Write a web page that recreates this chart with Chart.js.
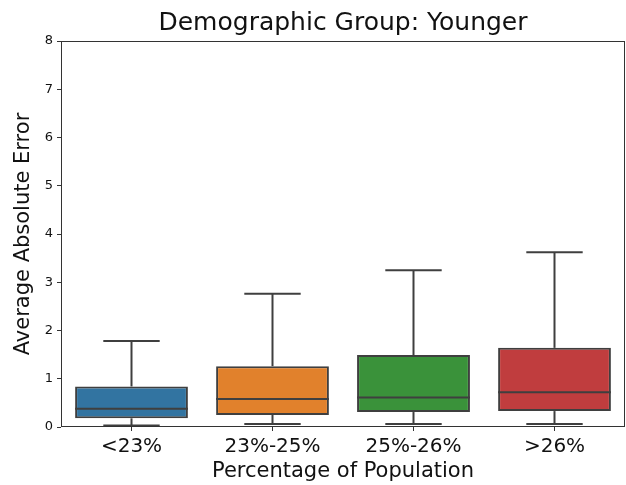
<!DOCTYPE html>
<html>
<head>
<meta charset="utf-8">
<script src="https://cdn.jsdelivr.net/npm/chart.js@4"></script>
<style>
  html, body { margin: 0; padding: 0; background: #fff; }
  #wrap { width: 626px; height: 485px; }
</style>
</head>
<body>
<div id="wrap"><canvas id="boxChart"></canvas></div>
<script>
// values
var categories = ['<23%', '23%-25%', '25%-26%', '>26%'];
var whiskerLow = [0.03, 0.06, 0.06, 0.06];
var q1 = [0.18, 0.25, 0.31, 0.33];
var median = [0.38, 0.58, 0.61, 0.72];
var q3 = [0.84, 1.26, 1.49, 1.64];
var whiskerHigh = [1.78, 2.76, 3.25, 3.62];
var yTicks = [0, 1, 2, 3, 4, 5, 6, 7, 8];

var boxColors = ['#3274a1', '#e1812c', '#3a923a', '#c03d3e'];
var lineColor = '#3f3f3f';
var fontFamily = '"DejaVu Sans", sans-serif';

// whiskers, caps and median lines drawn from the bar elements
const boxPlugin = {
    id: 'boxExtras',
    afterDatasetsDraw(chart) {
        const ctx = chart.ctx;
        const y = chart.scales.y;
        const meta = chart.getDatasetMeta(0);
        ctx.save();
        ctx.strokeStyle = lineColor;
        ctx.lineWidth = 2;
        meta.data.forEach((bar, i) => {
            const half = bar.width / 2;
            const cap = bar.width / 4;
            const x = bar.x;
            const line = (x1, y1, x2, y2) => {
                ctx.beginPath();
                ctx.moveTo(x1, y1);
                ctx.lineTo(x2, y2);
                ctx.stroke();
            };
            line(x, y.getPixelForValue(q3[i]), x, y.getPixelForValue(whiskerHigh[i]));
            line(x, y.getPixelForValue(q1[i]), x, y.getPixelForValue(whiskerLow[i]));
            line(x - cap, y.getPixelForValue(whiskerHigh[i]), x + cap, y.getPixelForValue(whiskerHigh[i]));
            line(x - cap, y.getPixelForValue(whiskerLow[i]), x + cap, y.getPixelForValue(whiskerLow[i]));
            line(x - half, y.getPixelForValue(median[i]), x + half, y.getPixelForValue(median[i]));
        });
        // frame round the plot area
        const a = chart.chartArea;
        ctx.strokeStyle = '#333';
        ctx.lineWidth = 1;
        ctx.strokeRect(a.left + 0.5, a.top + 0.5, a.right - a.left - 1, a.bottom - a.top - 1);
        ctx.restore();
    }
};

const boxData = {
    labels: categories,
    datasets: [
        {
            label: 'Average Absolute Error',
            data: categories.map((c, i) => [q1[i], q3[i]]),
            backgroundColor: boxColors,
            borderColor: lineColor,
            borderWidth: 2,
            borderSkipped: false,
            barPercentage: 0.8,
            categoryPercentage: 1.0
        }
    ]
};

const boxConfig = {
    type: 'bar',
    data: boxData,
    options: {
        responsive: true,
        maintainAspectRatio: false,
        animation: false,
        layout: { padding: { left: 0, right: 1, top: 0, bottom: 0 } },
        plugins: {
            legend: { display: false },
            tooltip: { enabled: false },
            title: {
                display: true,
                text: 'Demographic Group: Younger',
                fullSize: false,
                color: '#111',
                font: { family: fontFamily, size: 25, weight: 'normal' },
                padding: { top: 8, bottom: 3 }
            }
        },
        scales: {
            x: {
                grid: { display: true, drawOnChartArea: false, offset: false, tickLength: 4, color: '#333' },
                border: { display: false },
                ticks: { color: '#111', padding: 4, font: { family: fontFamily, size: 20 } },
                title: {
                    display: true,
                    text: 'Percentage of Population',
                    color: '#111',
                    font: { family: fontFamily, size: 21 },
                    padding: { top: 0, bottom: 1 }
                },
                afterFit: (s) => { s.height = 58; }
            },
            y: {
                min: 0,
                max: 8,
                afterBuildTicks: (s) => { s.ticks = yTicks.map(v => ({ value: v })); },
                grid: { display: true, drawOnChartArea: false, tickLength: 4, color: '#333' },
                border: { display: false },
                ticks: { color: '#111', padding: 4, font: { family: fontFamily, size: 13 } },
                title: {
                    display: true,
                    text: 'Average Absolute Error',
                    color: '#111',
                    font: { family: fontFamily, size: 21 },
                    padding: { top: 11, bottom: 0 }
                },
                afterFit: (s) => { s.width = 61; }
            }
        }
    },
    plugins: [boxPlugin]
};

const boxChart = new Chart(document.getElementById('boxChart'), boxConfig);
</script>
</body>
</html>
